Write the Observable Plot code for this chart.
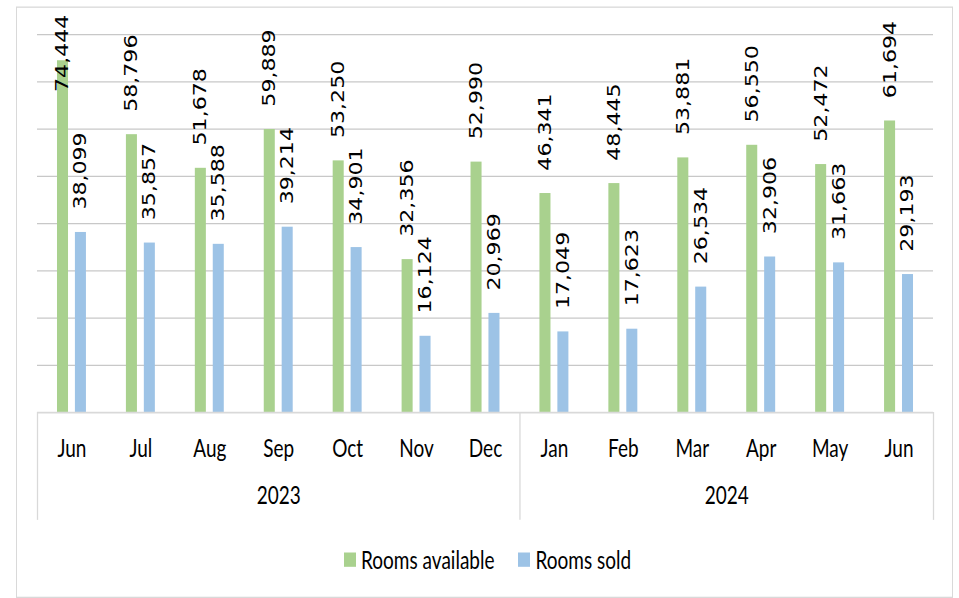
<!DOCTYPE html>
<html>
<head>
<meta charset="utf-8">
<script src="https://cdn.jsdelivr.net/npm/d3@7"></script>
<script src="https://cdn.jsdelivr.net/npm/@observablehq/plot@0.6"></script>
<style>
  html, body { margin: 0; padding: 0; background: #fff; width: 959px; height: 598px; overflow: hidden; }
  #wrap { position: relative; width: 959px; height: 598px; }
  /* the reference image is vertically stretched (~1.3x); reproduce that */
  #stage { position: absolute; left: 0; top: 0; width: 959px; height: 460px; transform: scaleY(1.3); transform-origin: 0 0; }
  #frame { position: absolute; left: 16px; top: 4.6px; width: 937px; height: 455px; border: 1px solid #d9d9d9; box-sizing: border-box; }
  #chart { position: absolute; left: 0; top: 0; }
  #legend { position: absolute; left: 344px; top: 419px; display: flex; align-items: center;
            font-family: Lato, "Noto Sans", sans-serif; font-size: 19px; color: #000; white-space: nowrap; }
  .item { display: flex; align-items: center; margin-right: 24px; }
  .sw { width: 12px; height: 11.5px; margin-right: 5px; }
</style>
</head>
<body>
<div id="wrap">
<div id="stage">
  <div id="frame"></div>
  <div id="chart"></div>
  <div id="legend"></div>
</div>
</div>
<script>
// ---- data ----
const months = ["Jun","Jul","Aug","Sep","Oct","Nov","Dec","Jan","Feb","Mar","Apr","May","Jun"];
const years  = ["2023","2023","2023","2023","2023","2023","2023","2024","2024","2024","2024","2024","2024"];
const roomsAvailable = [74444,58796,51678,59889,53250,32356,52990,46341,48445,53881,56550,52472,61694];
const roomsSold      = [38099,35857,35588,39214,34901,16124,20969,17049,17623,26534,32906,31663,29193];
const seriesNames = ["Rooms available","Rooms sold"];
const yTicks = [10000,20000,30000,40000,50000,60000,70000,80000];

// ---- styling ----
const colors = ["#a9d18e", "#9dc3e6"];
const offsets = [[-0.21, -0.05], [0.05, 0.21]]; // bar placement within a month slot (fraction of slot)
const LABEL_CEILING = 63000; // Excel pulls over-tall labels back inside the plot area

const rows = [];
months.forEach((m, i) => {
  [roomsAvailable[i], roomsSold[i]].forEach((v, s) => {
    rows.push({i, month: m, year: years[i], series: seriesNames[s], s, value: v,
               x1: i + offsets[s][0], x2: i + offsets[s][1]});
  });
});

const yearGroups = d3.groups(months.map((m, i) => ({i, year: years[i]})), d => d.year)
  .map(([year, arr]) => ({year, x: d3.mean(arr, d => d.i), lo: d3.min(arr, d => d.i) - 0.5, hi: d3.max(arr, d => d.i) + 0.5}));
const boundaries = Array.from(new Set(yearGroups.flatMap(g => [g.lo, g.hi])));

const fmt = d3.format(",");

const chart = Plot.plot({
  width: 959,
  height: 410,
  marginLeft: 37,
  marginRight: 26,
  marginTop: 26.15,
  marginBottom: 93.1,
  x: {type: "linear", domain: [-0.5, months.length - 0.5]},
  y: {domain: [0, 80000], axis: null},
  style: {background: "transparent", color: "#000", fontFamily: "Lato, 'Noto Sans', sans-serif", overflow: "visible"},
  marks: [
    Plot.ruleY(yTicks, {stroke: "#c8c8c8", strokeWidth: 1}),
    Plot.rectY(rows, {x1: "x1", x2: "x2", y: "value", fill: d => colors[d.s]}),
    Plot.ruleY([0], {stroke: "#d9d9d9", strokeWidth: 1.3}),
    Plot.axisX({ticks: boundaries, tickSize: 83, tickFormat: () => "", stroke: "#d9d9d9", strokeWidth: 1.3}),
    Plot.axisX({ticks: months.map((_, i) => i), tickFormat: i => months[i], tickSize: 0, tickPadding: 21,
                fontSize: 19, fontFamily: "Lato, 'Noto Sans', sans-serif", fill: "#000"}),
    Plot.text(yearGroups, {x: "x", text: "year", frameAnchor: "bottom", dy: 70.6,
                fontSize: 19, fontFamily: "Lato, 'Noto Sans', sans-serif", fill: "#000"}),
    Plot.text(rows, {x: d => (d.x1 + d.x2) / 2, y: d => Math.min(d.value, LABEL_CEILING), text: d => fmt(d.value),
                rotate: -90, textAnchor: "start", dy: -17.7, fontSize: 17,
                fontFamily: "'DejaVu Sans', sans-serif", fill: "#000"})
  ]
});
document.getElementById("chart").appendChild(chart);

const legend = document.getElementById("legend");
seriesNames.forEach((name, s) => {
  const item = document.createElement("div");
  item.className = "item";
  const sw = document.createElement("div");
  sw.className = "sw";
  sw.style.background = colors[s];
  const t = document.createElement("span");
  t.textContent = name;
  item.appendChild(sw);
  item.appendChild(t);
  legend.appendChild(item);
});
</script>
</body>
</html>
